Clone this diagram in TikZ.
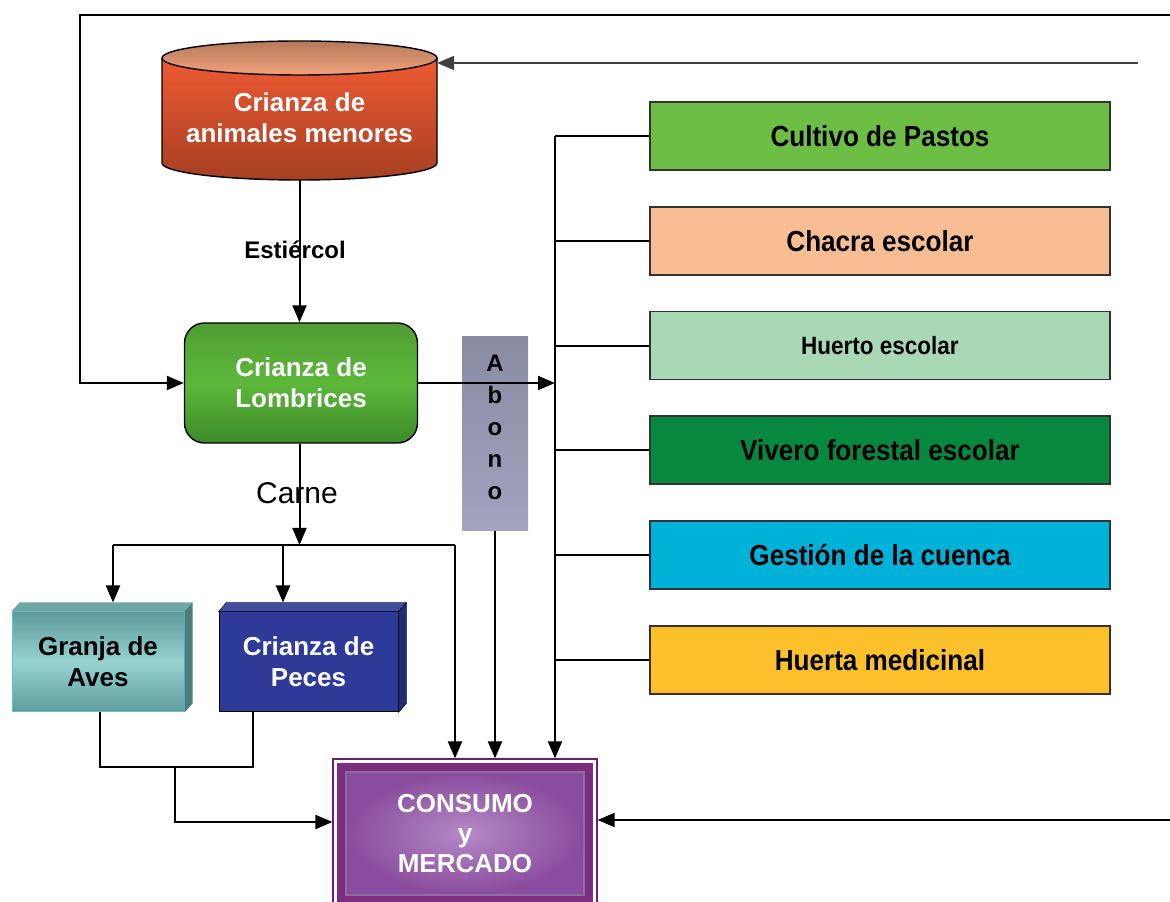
\documentclass[tikz,border=0pt]{standalone}
\usepackage{fontspec}
\setmainfont{Liberation Sans}
\newfontfamily\narrowfont[FakeStretch=0.9]{Liberation Sans}
\usetikzlibrary{arrows.meta,positioning}

\definecolor{cylred}{HTML}{EE5A32}
\definecolor{cyltop}{HTML}{F2A27A}
\definecolor{lomb}{HTML}{5DB83A}
\definecolor{lombtop}{HTML}{4E9E34}
\definecolor{lombbot}{HTML}{3C8A2A}
\definecolor{abono}{HTML}{A2A4C0}
\definecolor{cultivo}{HTML}{6DBE45}
\definecolor{chacra}{HTML}{F8BD93}
\definecolor{huerto}{HTML}{A9D8B5}
\definecolor{vivero}{HTML}{06893F}
\definecolor{gestion}{HTML}{00B1D8}
\definecolor{huerta}{HTML}{FBC02A}
\definecolor{granjaL}{HTML}{96D4D2}
\definecolor{granjaD}{HTML}{5E9C9C}
\definecolor{granjaE}{HTML}{5CC4CC}
\definecolor{peces}{HTML}{2D3A98}
\definecolor{consedge}{HTML}{6A2070}
\definecolor{consband}{HTML}{7B2D80}
\definecolor{consgrey}{HTML}{8E6C9E}
\definecolor{consin}{HTML}{B58AC6}
\definecolor{consout}{HTML}{8A4C9E}

\begin{document}
\begin{tikzpicture}[x=1pt, y=1pt,
  font=\fontsize{26}{31}\selectfont\bfseries,
  arr/.style={-{Triangle[length=17pt,width=14pt]}, line width=2pt},
  ln/.style={line width=2pt},
  lab/.style={font=\fontsize{24}{28}\selectfont\bfseries},
  act/.style={draw=black!80, line width=1.8pt, minimum width=460pt, minimum height=68pt,
              font=\narrowfont\fontsize{29}{32}\selectfont\bfseries},
  blk/.style={draw, line width=1pt, minimum width=172pt, minimum height=100pt, align=center},
  cons/.style={draw=consedge, line width=1.2pt, fill=white, minimum width=264pt,
               minimum height=149pt, text=white, align=center,
               font=\fontsize{26}{30}\selectfont\bfseries,
               path picture={
                 \draw[consband, line width=8pt]
                   ([shift={(8pt,-8pt)}]path picture bounding box.north west) rectangle
                   ([shift={(-8pt,8pt)}]path picture bounding box.south east);
                 \shade[inner color=consin, outer color=consout]
                   ([shift={(14pt,-14pt)}]path picture bounding box.north west) rectangle
                   ([shift={(-14pt,14pt)}]path picture bounding box.south east);
                 \draw[consgrey, line width=2pt]
                   ([shift={(13pt,-13pt)}]path picture bounding box.north west) rectangle
                   ([shift={(-13pt,13pt)}]path picture bounding box.south east);}},
  node distance=35pt]

\useasboundingbox (0,0) rectangle (1170,902);

% Cylinder
\shade[top color=cylred, middle color=cylred, bottom color=cylred!70!black]
  (162,844) -- (162,739) arc[start angle=180, end angle=360, x radius=137.5pt, y radius=17pt]
  -- (437,844) -- cycle;
\shade[top color=cyltop!75!black, bottom color=cyltop] (299.5,844) ellipse[x radius=137.5pt, y radius=17pt];
\draw[line width=1.4pt] (162,844) -- (162,739)
  arc[start angle=180, end angle=360, x radius=137.5pt, y radius=17pt] -- (437,844);
\draw[line width=1.4pt] (299.5,844) ellipse[x radius=137.5pt, y radius=17pt];
\node[text=white, minimum width=275pt, minimum height=124pt, align=center] (anim) at (299.5,784)
  {Crianza de\\animales menores};

% Worms
\node[draw, line width=1.4pt, rounded corners=20pt, top color=lombtop, bottom color=lombbot,
      middle color=lomb, minimum width=233pt, minimum height=120pt, text=white, align=center]
      (lomb) at (301,519) {Crianza de\\Lombrices};
\draw[arr] (anim.south) -- (anim.south |- lomb.north);
\node[lab] (estiercol) at (295,652) {Estiércol};

% Feedback lines
\coordinate (tr) at (1170,887); \coordinate (tl) at (80,887);
\draw[arr, line width=2.2pt] (tr) -- (tl) -- (tl |- lomb.west) -- (lomb.west);
\coordinate (fb) at (1138,839);
\draw[arr, draw=black!75] (fb) -- (fb -| anim.east);

% Abono
\node[top color=abono!85!black, bottom color=abono, minimum width=66pt, minimum height=194pt,
      align=center, text depth=14pt, font=\fontsize{24}{32}\selectfont\bfseries] (abono) at (495,468)
      {A\\b\\o\\n\\o};

% Activities
\node[act, fill=cultivo] (cult) at (880,766) {Cultivo de Pastos};
\node[act, fill=chacra, below=of cult] (chacra) {Chacra escolar};
\node[act, fill=huerto, below=of chacra, font=\narrowfont\fontsize{25}{28}\selectfont\bfseries] (huerto) {Huerto escolar};
\node[act, fill=vivero, below=of huerto] (vivero) {Vivero forestal escolar};
\node[act, fill=gestion, below=of vivero] (gestion) {Gestión de la cuenca};
\node[act, fill=huerta, below=of gestion] (huerta) {Huerta medicinal};

% Market
\node[cons] (cons) at (465,68.5) {CONSUMO\\y\\MERCADO};

% Bus
\coordinate (bus) at (555,0);
\draw[arr] (lomb.east) -- (lomb.east -| bus);
\draw[arr] (cult.west -| bus) -- (bus |- cons.north);
\draw[ln] (cult.west) -- (cult.west -| bus); \draw[ln] (chacra.west) -- (chacra.west -| bus);
\draw[ln] (huerto.west) -- (huerto.west -| bus); \draw[ln] (vivero.west) -- (vivero.west -| bus);
\draw[ln] (gestion.west) -- (gestion.west -| bus); \draw[ln] (huerta.west) -- (huerta.west -| bus);
\draw[arr] (abono.south) -- (abono.south |- cons.north);

% Birds and fish
\node[blk, draw=granjaE, top color=granjaD, bottom color=granjaD, middle color=granjaL]
      (granja) at (98,240) {Granja de\\Aves};
\fill[granjaD!90!white] (granja.north west) -- ++(8,9) -- ([shift={(8,9)}]granja.north east) -- (granja.north east) -- cycle;
\fill[granjaD!80!black] (granja.north east) -- ++(8,9) -- ([shift={(8,9)}]granja.south east) -- (granja.south east) -- cycle;
\node[blk, fill=peces, text=white, minimum width=179pt] (peces) at (308.5,240) {Crianza de\\Peces};
\fill[peces!90!white, draw=black] (peces.north west) -- ++(8,9) -- ([shift={(8,9)}]peces.north east) -- (peces.north east) -- cycle;
\fill[peces!75!black, draw=black] (peces.north east) -- ++(8,9) -- ([shift={(8,9)}]peces.south east) -- (peces.south east) -- cycle;

% Carne
\coordinate (split) at (299.5,357);
\draw[arr] (lomb.south -| split) -- (split);
\node[font=\fontsize{30}{34}\selectfont] (carne) at (297,409) {Carne};
\coordinate (ga) at (113,357); \coordinate (pa) at (283,357); \coordinate (ca) at (455,357);
\draw[ln] (ga) -- (ca);
\draw[arr] (ga) -- ([yshift=9pt]granja.north -| ga);
\draw[arr] (pa) -- ([yshift=9pt]peces.north -| pa);
\draw[arr] (ca) -- (ca |- cons.north);

% To market
\coordinate (gb) at (100,135); \coordinate (pb) at (253,135); \coordinate (mb) at (175,135);
\draw[ln] (granja.south -| gb) -- (gb) -- (pb) -- (peces.south -| pb);
\coordinate (cin) at (175,80);
\draw[arr] (mb) -- (cin) -- (cin -| cons.west);
\coordinate (rin) at (1170,82);
\draw[arr] (rin) -- (rin -| cons.east);
\end{tikzpicture}
\end{document}
